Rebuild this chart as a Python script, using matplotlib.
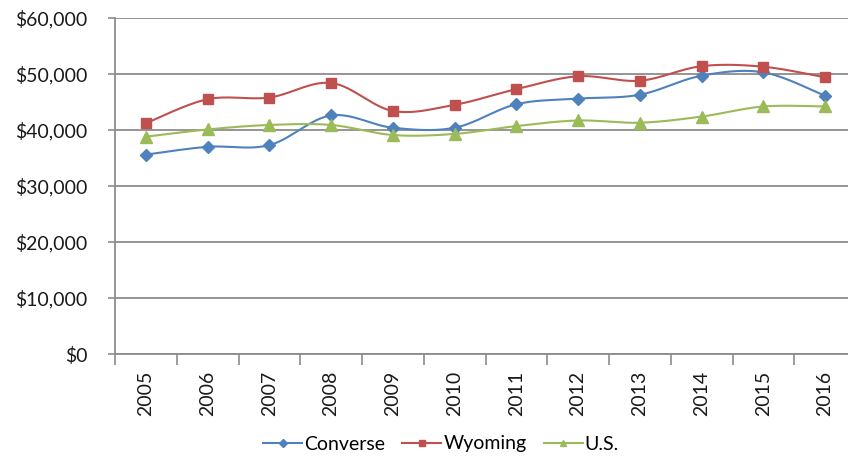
import numpy as np
import matplotlib
matplotlib.use("Agg")
import matplotlib.pyplot as plt
from matplotlib.ticker import FuncFormatter, FixedLocator

years = ["2005", "2006", "2007", "2008", "2009", "2010", "2011", "2012", "2013", "2014", "2015", "2016"]
converse = [35600, 37000, 37300, 42600, 40400, 40400, 44600, 45600, 46300, 49700, 50300, 46100]
wyoming = [41200, 45500, 45800, 48400, 43400, 44500, 47300, 49600, 48800, 51400, 51300, 49400]
us = [38800, 40100, 40900, 40900, 39100, 39300, 40700, 41700, 41300, 42400, 44200, 44200]

plt.rcParams['font.family'] = ['Lato', 'DejaVu Sans']

W, H = 848, 458
fig = plt.figure(figsize=(W / 100, H / 100), dpi=100)
left, right, top, bottom = 115, 856, 18, 354
ax = fig.add_axes([left / W, 1 - bottom / H, (right - left) / W, (bottom - top) / H])


def smooth(x, y, n=30):
    x = np.asarray(x, float)
    y = np.asarray(y, float)
    px = np.concatenate([[x[0]], x, [x[-1]]])
    py = np.concatenate([[y[0]], y, [y[-1]]])
    xs, ys = [], []
    for i in range(1, len(px) - 2):
        p0 = np.array([px[i - 1], py[i - 1]])
        p1 = np.array([px[i], py[i]])
        p2 = np.array([px[i + 1], py[i + 1]])
        p3 = np.array([px[i + 2], py[i + 2]])
        c1 = p1 + (p2 - p0) / 6
        c2 = p2 - (p3 - p1) / 6
        t = np.linspace(0, 1, n)[:, None]
        pts = (1 - t) ** 3 * p1 + 3 * (1 - t) ** 2 * t * c1 + 3 * (1 - t) * t ** 2 * c2 + t ** 3 * p2
        xs.extend(pts[:, 0])
        ys.extend(pts[:, 1])
    return np.array(xs), np.array(ys)


x = np.arange(len(years))
series = [
    ("Converse", converse, "#4F81BD", "D", 6.5),
    ("Wyoming", wyoming, "#C0504D", "s", 7.5),
    ("U.S.", us, "#9BBB59", "^", 8.5),
]
handles = []
for name, vals, col, mk, ms in series:
    sx, sy = smooth(x, vals)
    ax.plot(sx, sy, color=col, lw=1.5, zorder=3)
    ax.plot(x, vals, ls="none", marker=mk, ms=ms, color=col, mec=col, zorder=4)
    h, = ax.plot([], [], color=col, lw=1.5, marker=mk, ms=4.5, mec=col, label=name)
    handles.append(h)

ax.set_xlim(-0.5, len(years) - 0.5)
ax.set_ylim(0, 60000)
ax.yaxis.set_major_locator(FixedLocator(np.arange(0, 60001, 10000)))
ax.yaxis.set_major_formatter(FuncFormatter(lambda v, p: "${:,.0f}".format(v)))
ax.grid(axis="y", color="#8C8C8C", lw=1.3, zorder=1)
ax.set_axisbelow(True)

ax.set_xticks(x)
ax.set_xticklabels(years, rotation=90, fontsize=14, color="#1a1a1a")
ax.tick_params(axis="x", length=0, pad=12)
ax.set_xticks(np.arange(-0.5, len(years), 1), minor=True)
ax.tick_params(axis="x", which="minor", length=8, width=1.2, color="#8C8C8C")
ax.tick_params(axis="y", length=5, width=1.2, color="#8C8C8C", labelsize=14, labelcolor="#1a1a1a", pad=15)

for s in ["top", "right"]:
    ax.spines[s].set_visible(False)
for s in ["left", "bottom"]:
    ax.spines[s].set_color("#8C8C8C")
    ax.spines[s].set_linewidth(1.3)

fig.legend(handles=handles, loc="center", bbox_to_anchor=(441 / W, 1 - 444 / H), ncol=3,
           frameon=False, fontsize=14, handlelength=2.0, handletextpad=0.1, columnspacing=0.9,
           borderaxespad=0)

fig.savefig("out.png", dpi=100)
